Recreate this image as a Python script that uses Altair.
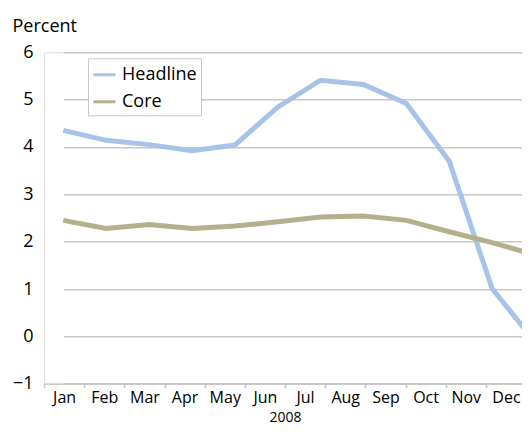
import altair as alt
import pandas as pd

months = ["Jan", "Feb", "Mar", "Apr", "May", "Jun",
          "Jul", "Aug", "Sep", "Oct", "Nov", "Dec"]
headline = [4.35, 4.14, 4.05, 3.92, 4.04, 4.84, 5.41, 5.32, 4.92, 3.70, 1.01, -0.12]
core = [2.45, 2.28, 2.36, 2.28, 2.33, 2.42, 2.52, 2.54, 2.45, 2.21, 1.98, 1.72]
series_names = ["Headline", "Core"]
series_colors = ["#a7c3e8", "#b5b08c"]
y_ticks = [-1, 0, 1, 2, 3, 4, 5, 6]

df = pd.DataFrame({
    "month": months * 2,
    "series": ["Headline"] * 12 + ["Core"] * 12,
    "value": headline + core,
})
axis_df = pd.DataFrame({"month": months})

FONT = "Open Sans"
GRID = "#c8c8c8"

y_enc = alt.Y(
    "value:Q",
    scale=alt.Scale(domain=[-1, 6], nice=False, zero=False),
    axis=alt.Axis(
        values=y_ticks, grid=True, gridColor=GRID, gridWidth=1.6,
        domain=False, ticks=False, labelFontSize=18, labelPadding=11,
        labelColor="#000000", title="Percent", titleAngle=0,
        titleAlign="left", titleBaseline="alphabetic", titleX=-32, titleY=-21,
        titleFontSize=18, titleFontWeight="normal", titleColor="#000000",
    ),
)

axis_layer = alt.Chart(axis_df).mark_point(opacity=0).encode(
    x=alt.X(
        "month:O", sort=months,
        scale=alt.Scale(type="band", range=[0, 482], paddingInner=0, paddingOuter=0),
        axis=alt.Axis(
            title="2008", tickBand="extent", labelAngle=0, labelFontSize=16,
            labelColor="#000000", labelPadding=1.5, domainColor=GRID, domainWidth=1.6,
            tickColor=GRID, tickWidth=1.6, tickSize=4, grid=False,
            titleFontSize=14, titleFontWeight="normal", titleColor="#000000",
            titlePadding=5.3,
        ),
    ),
)

lines = alt.Chart(df).mark_line(strokeWidth=5, clip=True).encode(
    x=alt.X(
        "month:O", sort=months,
        scale=alt.Scale(type="point", range=[19.3, 491], padding=0),
        axis=None,
    ),
    y=y_enc,
    color=alt.Color(
        "series:N",
        scale=alt.Scale(domain=series_names, range=series_colors),
        legend=alt.Legend(
            title=None, orient="none", legendX=44, legendY=6,
            symbolType="stroke", symbolSize=484, symbolStrokeWidth=3,
            labelFontSize=18, labelColor="#000000", labelOffset=5,
            rowPadding=5, padding=4, strokeColor=GRID, fillColor="white",
        ),
    ),
)

chart = alt.layer(axis_layer, lines).resolve_scale(x="independent").properties(
    width=486, height=331.4,
    autosize=alt.AutoSizeParams(type="none"),
    padding={"left": 36, "top": 44.3, "right": -8, "bottom": 42.3},
    background="white",
).configure_view(stroke=None).configure(font=FONT)

chart.save("out.html", embed_options={"renderer": "svg", "actions": False})
